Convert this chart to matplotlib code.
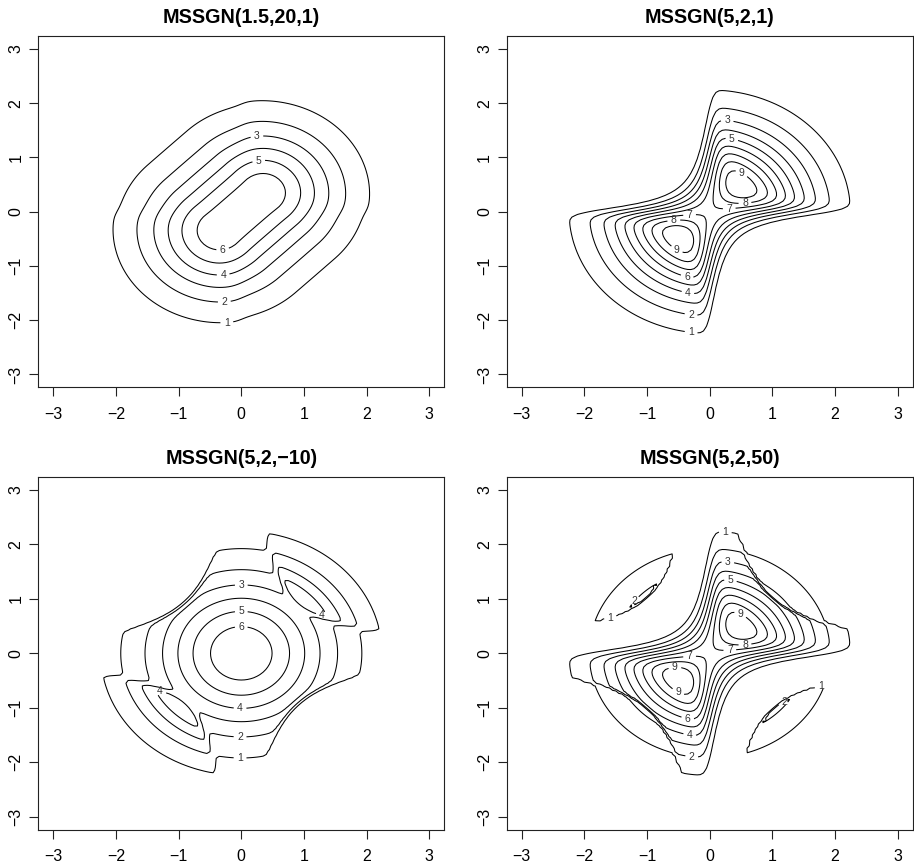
import math
import numpy as np
import matplotlib
matplotlib.use("Agg")
import matplotlib.pyplot as plt

plt.rcParams['font.family'] = ['Liberation Sans', 'DejaVu Sans']

# ---------------- chart values ----------------
titles = ["MSSGN(1.5,20,1)", "MSSGN(5,2,1)", "MSSGN(5,2,\u221210)", "MSSGN(5,2,50)"]
levels_1 = [1, 2, 3, 4, 5, 6]
levels_2 = [1, 2, 3, 4, 5, 6, 7, 8, 9]
levels_3 = [1, 2, 3, 4, 5, 6]
levels_4 = [1, 2, 3, 4, 5, 6, 7, 8, 9]
ticks = [-3, -2, -1, 0, 1, 2, 3]
tick_labels = ["\u22123", "\u22122", "\u22121", "0", "1", "2", "3"]

# shape parameters of the plotted densities
peak_height = 6.8       # height of radial profile at centre
radial_two_var = 1.93   # 2 * variance of radial profile
skew_gain = 6.0         # steepness of diagonal / anti-diagonal modulation
crease_3 = 0.85         # |x*y| where the panel-3 modulation switches
crease_4 = 1.02         # |x*y| where the panel-4 modulation switches off
seg_half = 0.45         # half-length of the ridge (panel 1)
p1_scale = 1.17
p1_power = 1.75
p1_ripple = 0.09

# contour-label anchor points
label_pos_1 = [(0.25, 1.38), (0.28, 0.92), (-0.30, -0.68), (-0.29, -1.16),
               (-0.27, -1.68), (-0.23, -2.06)]
label_pos_2 = [(0.28, 1.69), (0.35, 1.32), (0.45, 0.58), (0.56, 0.20),
               (0.31, 0.09), (-0.32, -0.08), (-0.57, -0.20), (-0.48, -0.60),
               (-0.36, -1.19), (-0.35, -1.51), (-0.30, -1.92), (-0.30, -2.26)]
label_pos_3 = [(0.0, 1.26), (0.0, 0.77), (0.0, 0.47), (1.29, 0.70),
               (-1.30, -0.72), (-0.02, -1.02), (-0.02, -1.55), (-0.02, -1.94)]
label_pos_4 = [(0.25, 2.25), (0.29, 1.69), (0.33, 1.33), (0.47, 0.66),
               (0.56, 0.20), (0.32, 0.08), (-0.32, -0.08), (-0.56, -0.21),
               (-0.48, -0.66), (-0.35, -1.19), (-0.32, -1.50), (-0.29, -1.93),
               (-1.59, 0.66), (-1.20, 0.95), (1.77, -0.63), (1.20, -0.92)]

# ---------------- fields ----------------
g = np.linspace(-3, 3, 121)
X, Y = np.meshgrid(g, g)
R2 = X ** 2 + Y ** 2
XY = X * Y
_erf = np.vectorize(math.erf)


def Phi(z):
    return 0.5 * (1.0 + _erf(z / math.sqrt(2.0)))


def sig(z):
    return 1.0 / (1.0 + np.exp(-np.clip(z, -60, 60)))


base = peak_height * np.exp(-R2 / radial_two_var)

# panel 2
Z2 = base * 2.0 * Phi(skew_gain * XY)
# panel 4
off = sig((np.abs(XY) - crease_4) / 0.01)
Z4 = base * (1.0 + (2.0 * Phi(skew_gain * XY) - 1.0) * (1.0 - off))
# panel 3
Z3 = base * (1.0 + 0.5 * np.tanh((XY - crease_3) / 0.07)
             - 0.5 * np.tanh((-XY - crease_3) / 0.07))
# panel 1 : ridge along the diagonal
a = seg_half / math.sqrt(2.0)
t = np.clip((X * a + Y * a) / (2 * a * a), -1, 1)
d = np.sqrt((X - t * a) ** 2 + (Y - t * a) ** 2)
Z1 = peak_height * np.exp(-(d / p1_scale) ** p1_power) * \
    (1 + p1_ripple * np.tanh(4 * XY) * R2 / (R2 + 1.5))

# ---------------- figure ----------------
W, H = 914, 866
fig = plt.figure(figsize=(W / 100, H / 100), dpi=100)


def px_axes(left, top, right, bottom):
    return fig.add_axes([left / W, 1 - bottom / H, (right - left) / W, (bottom - top) / H])


axs = [px_axes(38.3, 36, 444.3, 387.4), px_axes(506.7, 36, 912.7, 387.4),
       px_axes(38.3, 477, 444.3, 829.6), px_axes(506.7, 477, 912.7, 829.6)]

fields = [Z1, Z2, Z3, Z4]
levs = [levels_1, levels_2, levels_3, levels_4]
lpos = [label_pos_1, label_pos_2, label_pos_3, label_pos_4]

for ax, Z, lv, lp, title in zip(axs, fields, levs, lpos, titles):
    cs = ax.contour(X, Y, Z, levels=lv, colors='black', linewidths=0.75)
    txts = ax.clabel(cs, lv, inline=True, fontsize=7.5, colors='#333333', fmt='%d',
                     manual=lp, inline_spacing=4)
    for tx in cs.labelTexts:
        tx.set_rotation(0)
    ax.set_xlim(-3.24, 3.24)
    ax.set_ylim(-3.24, 3.24)
    ax.set_xticks(ticks)
    ax.set_xticklabels(tick_labels)
    ax.set_yticks(ticks)
    ax.set_yticklabels(tick_labels, rotation=90, va='center')
    ax.tick_params(direction='out', length=6.5, width=0.8, labelsize=11.5, color='#222222')
    ax.tick_params(axis='x', pad=7.5)
    ax.tick_params(axis='y', pad=4)
    for s in ax.spines.values():
        s.set_linewidth(0.8)
        s.set_color('#222222')
    ax.set_title(title, fontsize=14.2, fontweight='bold', pad=9.5)

fig.savefig("out.png", dpi=100)
